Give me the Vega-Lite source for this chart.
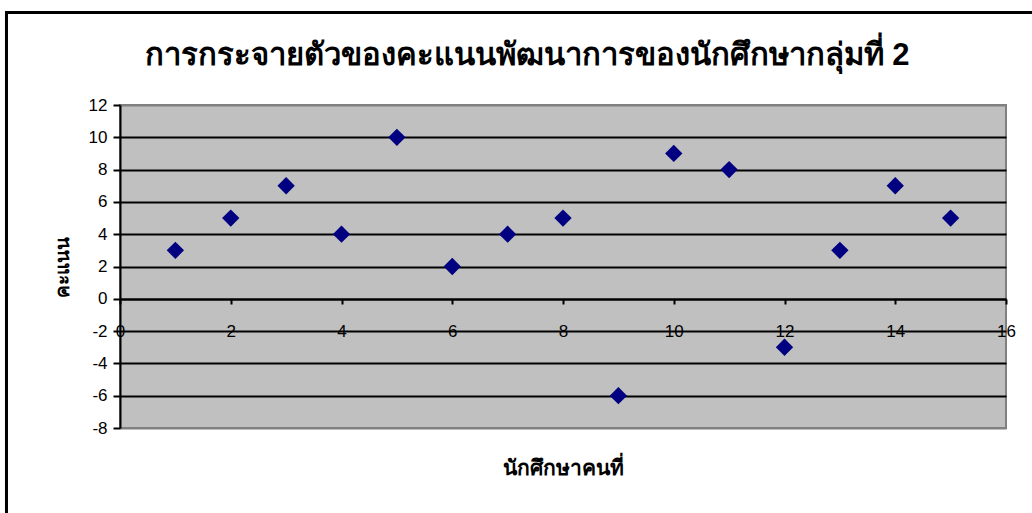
{
  "$schema": "https://vega.github.io/schema/vega-lite/v6.json",
  "width": 886,
  "height": 323,
  "autosize": "none",
  "padding": {"left": 120, "top": 105, "right": 26, "bottom": 85},
  "background": "white",
  "title": {
    "text": "การกระจายตัวของคะแนนพัฒนาการของนักศึกษากลุ่มที่ 2",
    "font": "Liberation Sans",
    "fontSize": 31,
    "fontWeight": "bold",
    "color": "black",
    "anchor": "middle",
    "frame": "group",
    "dx": -36,
    "offset": -61
  },
  "config": {
    "view": {"fill": "#C0C0C0", "stroke": "#808080", "strokeWidth": 2},
    "axis": {
      "labelFont": "Liberation Sans",
      "labelFontSize": 17,
      "labelColor": "black",
      "titleFont": "Liberation Sans",
      "titleFontWeight": "bold",
      "titleColor": "black",
      "domainColor": "black",
      "domainWidth": 2,
      "tickColor": "black",
      "tickWidth": 2
    }
  },
  "resolve": {"axis": {"x": "independent", "y": "independent"}},
  "data": {
    "values": [
      {"student": 1, "score": 3},
      {"student": 2, "score": 5},
      {"student": 3, "score": 7},
      {"student": 4, "score": 4},
      {"student": 5, "score": 10},
      {"student": 6, "score": 2},
      {"student": 7, "score": 4},
      {"student": 8, "score": 5},
      {"student": 9, "score": -6},
      {"student": 10, "score": 9},
      {"student": 11, "score": 8},
      {"student": 12, "score": -3},
      {"student": 13, "score": 3},
      {"student": 14, "score": 7},
      {"student": 15, "score": 5}
    ]
  },
  "layer": [
    {
      "mark": {"type": "point", "shape": "diamond", "filled": true, "size": 300, "color": "#000080", "opacity": 1},
      "encoding": {
        "x": {
          "field": "student",
          "type": "quantitative",
          "scale": {"domain": [0, 16], "nice": false, "zero": false},
          "axis": {
            "title": "นักศึกษาคนที่",
            "titleFontSize": 21,
            "values": [0, 2, 4, 6, 8, 10, 12, 14, 16],
            "labelExpr": "'' + datum.value",
            "grid": false,
            "offset": -129,
            "tickSize": 5,
            "labelPadding": 19,
            "labelFlush": false,
            "labelOverlap": false,
            "titleY": 169,
            "titleBaseline": "middle"
          }
        },
        "y": {
          "field": "score",
          "type": "quantitative",
          "scale": {"domain": [-8, 12], "nice": false, "zero": false},
          "axis": {
            "title": "คะแนน",
            "titleFontSize": 19,
            "values": [-8, -6, -4, -2, 0, 2, 4, 6, 8, 10, 12],
            "labelExpr": "'' + datum.value",
            "grid": true,
            "gridColor": {"condition": {"test": "datum.value == 12 || datum.value == -8", "value": "#808080"}, "value": "black"},
            "gridWidth": 2,
            "gridOpacity": 1,
            "tickSize": 7,
            "labelPadding": 6,
            "labelFlush": false,
            "labelOverlap": false,
            "titleX": -58,
            "titleBaseline": "middle"
          }
        }
      }
    },
    {
      "data": {"values": [{"x0": -2.05, "x1": 16.61, "y0": 17.73, "y1": -13.7}]},
      "mark": {"type": "rect", "fill": null, "stroke": "black", "strokeWidth": 3, "clip": false},
      "encoding": {
        "x": {"field": "x0", "type": "quantitative", "axis": null},
        "x2": {"field": "x1"},
        "y": {"field": "y0", "type": "quantitative", "axis": null},
        "y2": {"field": "y1"}
      }
    }
  ]
}
